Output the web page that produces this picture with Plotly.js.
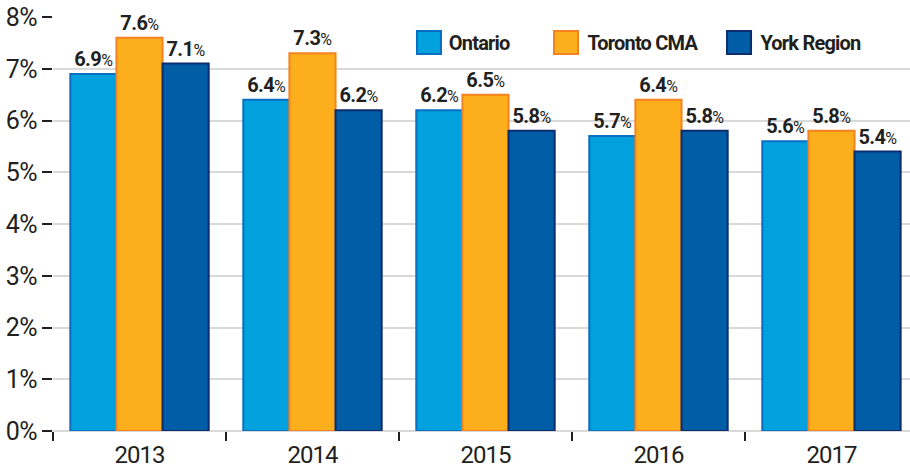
<!DOCTYPE html>
<html>
<head>
<meta charset="utf-8">
<script src="https://cdn.plot.ly/plotly-3.0.1.min.js"></script>
<style>
html,body{margin:0;padding:0;background:#fff;}
#chart{width:910px;height:469px;}
#chart .xtick text{letter-spacing:-1px;}
#chart .ytick text{letter-spacing:-0.5px;}
#chart .bartext{letter-spacing:-0.6px;}
#chart .annotation-text{letter-spacing:-0.8px;}
</style>
</head>
<body>
<div id="chart"></div>
<script>
const years = ['2013', '2014', '2015', '2016', '2017'];
const seriesNames = ['Ontario', 'Toronto CMA', 'York Region'];
const ontario = [6.9, 6.4, 6.2, 5.7, 5.6];
const toronto = [7.6, 7.3, 6.5, 6.4, 5.8];
const york = [7.1, 6.2, 5.8, 5.8, 5.4];
const yTickVals = [0, 1, 2, 3, 4, 5, 6, 7, 8];
const yTickText = ['0%', '1%', '2%', '3%', '4%', '5%', '6%', '7%', '8%'];

const FONT = "Roboto, 'Liberation Sans', sans-serif";
const fills = ['#00A1DD', '#FDAE1C', '#005DA6'];
const lines = ['#0A6FC2', '#F58220', '#0B2D6E'];
const values = [ontario, toronto, york];

const traces = values.map((v, i) => ({
  type: 'bar',
  name: seriesNames[i],
  x: years,
  y: v,
  marker: {color: fills[i], line: {color: lines[i], width: 2}},
  text: v.map(d => d.toFixed(1)),
  texttemplate: '<b>%{text}</b><span style="font-size:16px">%</span>',
  textposition: 'outside',
  textfont: {family: FONT, size: 20, color: '#231F20'},
  cliponaxis: false,
  showlegend: false,
  hoverinfo: 'x+y'
}));

const legX = [0.4247, 0.5846, 0.7865];
const shapes = [];
const annotations = [];
seriesNames.forEach((n, i) => {
  shapes.push({type: 'rect', xref: 'paper', yref: 'paper',
    x0: legX[i], x1: legX[i] + 24 / 857, y0: (431 - 54) / 414, y1: (431 - 31) / 414,
    fillcolor: fills[i], line: {color: lines[i], width: 2}});
  annotations.push({xref: 'paper', yref: 'paper', x: legX[i] + 27 / 857, y: (431 - 42.5) / 414,
    xanchor: 'left', yanchor: 'middle', showarrow: false, text: '<b>' + n + '</b>',
    font: {family: FONT, size: 20, color: '#231F20'}});
});

const layout = {
  width: 910, height: 469,
  margin: {l: 53, r: 0, t: 17, b: 38},
  paper_bgcolor: '#fff', plot_bgcolor: '#fff',
  barmode: 'group', bargap: 0.2, bargroupgap: 0,
  showlegend: false,
  font: {family: FONT, color: '#231F20'},
  xaxis: {
    type: 'category', range: [-0.5, 4.454],
    showgrid: false, showline: false, zeroline: false,
    ticks: 'outside', tickson: 'boundaries', ticklen: 9, tickwidth: 2, tickcolor: '#231F20',
    ticklabelstandoff: 7,
    tickfont: {family: FONT, size: 24, color: '#231F20'}
  },
  yaxis: {
    range: [0, 8], tickvals: yTickVals, ticktext: yTickText,
    showgrid: true, gridcolor: '#D9D9D9', gridwidth: 2,
    zeroline: true, zerolinecolor: '#D9D9D9', zerolinewidth: 2,
    showline: false,
    ticks: 'outside', ticklen: 10, tickwidth: 2, tickcolor: '#231F20',
    tickfont: {family: FONT, size: 25, color: '#231F20'}
  },
  shapes: shapes,
  annotations: annotations
};

Plotly.newPlot('chart', traces, layout, {displayModeBar: false, staticPlot: true});
</script>
</body>
</html>
